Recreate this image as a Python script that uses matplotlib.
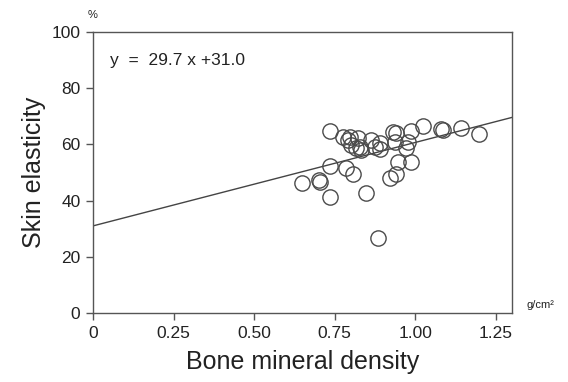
import matplotlib
matplotlib.use("Agg")
import matplotlib.pyplot as plt
import numpy as np

# ---- Data -----------------------------------------------------------------
bmd = [0.734, 0.775, 0.791, 0.796, 0.801, 0.822, 0.817, 0.827, 0.832,
       0.863, 0.874, 0.889, 0.889, 0.930, 0.941, 0.936, 0.987, 0.977,
       0.972, 1.023, 1.080, 1.085, 1.142, 1.199, 0.734, 0.786, 0.806,
       0.649, 0.701, 0.703, 0.734, 0.848, 0.884, 0.920, 0.941, 0.946,
       0.987]
elasticity = [64.9, 62.7, 61.6, 62.7, 59.8, 62.2, 58.6, 59.2, 58.0,
              61.6, 59.2, 58.2, 60.4, 64.5, 63.9, 61.0, 64.9, 61.0,
              58.6, 66.5, 65.4, 65.0, 65.7, 63.6, 52.3, 51.5, 49.5,
              46.1, 47.3, 46.6, 41.2, 42.8, 26.6, 47.9, 49.5, 53.7,
              53.7]

slope, intercept = 29.7, 31.0
x_ticks = [0, 0.25, 0.50, 0.75, 1.00, 1.25]
x_ticklabels = ["0", "0.25", "0.50", "0.75", "1.00", "1.25"]
y_ticks = [0, 20, 40, 60, 80, 100]

# ---- Plot ------------------------------------------------------------------
plt.rcParams["font.family"] = ["Liberation Sans", "DejaVu Sans"]
INK = "#222222"

fig = plt.figure(figsize=(5.68, 3.82), dpi=100, facecolor="white")
ax = fig.add_axes([0.1637, 0.1806, 0.7377, 0.7356])

ax.set_xlim(0, 1.30)
ax.set_ylim(0, 100)

xl = np.array([0, 1.30])
ax.plot(xl, slope * xl + intercept, color="#444444", linewidth=1.0, zorder=2)
ax.plot(bmd, elasticity, linestyle="none", marker="o", markersize=11,
        markerfacecolor="none", markeredgecolor="#4a4a4a",
        markeredgewidth=1.0, zorder=3)

for s in ax.spines.values():
    s.set_color("#555555")
    s.set_linewidth(1.0)

ax.set_xticks(x_ticks)
ax.set_xticklabels(x_ticklabels)
ax.set_yticks(y_ticks)
ax.tick_params(direction="out", length=5, width=1.0, color="#555555",
               labelsize=12.5, labelcolor=INK, pad=4)

ax.set_xlabel("Bone mineral density", fontsize=18, color=INK, labelpad=7)
ax.set_ylabel("Skin elasticity", fontsize=18, color=INK, labelpad=4)

ax.text(0.04, 0.90, "y  =  29.7 x +31.0", transform=ax.transAxes,
        fontsize=12.5, color=INK, ha="left", va="center")
ax.text(0.0, 1.06, "%", transform=ax.transAxes, fontsize=8,
        color=INK, ha="center", va="center")
ax.text(1.035, 0.03, "g/cm²", transform=ax.transAxes, fontsize=8,
        color=INK, ha="left", va="center")

fig.savefig("out.png", dpi=100, facecolor="white")
